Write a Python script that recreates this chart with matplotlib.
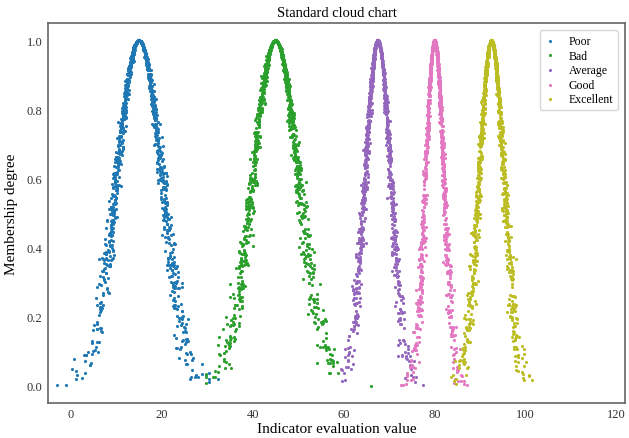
import numpy as np
import matplotlib
matplotlib.use("Agg")
import matplotlib.pyplot as plt

plt.rcParams["font.family"] = ["Liberation Serif", "DejaVu Serif"]

# cloud parameters (expectation, entropy, hyper-entropy)
grades = ["Poor", "Bad", "Average", "Good", "Excellent"]
Ex = [15, 45, 67.5, 80, 92.5]
En = [5, 5, 2.8, 2.0, 2.7]
He = [0.5, 0.5, 0.3, 0.25, 0.3]
n_drops = 1200
colors = ["#1f77b4", "#2ca02c", "#9467bd", "#e377c2", "#bcbd22"]

def cloud_drops(ex, en, he, n, rng):
    en_p = rng.normal(en, he, n)
    x = rng.normal(ex, np.abs(en_p))
    y = np.exp(-(x - ex) ** 2 / (2 * en_p ** 2))
    return x, y

rng = np.random.default_rng(7)
fig = plt.figure(figsize=(6.29, 4.39), dpi=100)
ax = fig.add_axes([0.0763, 0.08, 0.918, 0.865])

for g, ex, en, he, c in zip(grades, Ex, En, He, colors):
    x, y = cloud_drops(ex, en, he, n_drops, rng)
    ax.scatter(x, y, s=5, color=c, label=g, linewidths=0)

ax.set_xlim(-5, 122)
ax.set_ylim(-0.05, 1.05)
ax.set_xticks([0, 20, 40, 60, 80, 100, 120])
ax.set_yticks([0.0, 0.2, 0.4, 0.6, 0.8, 1.0])
ax.tick_params(labelsize=9, colors="#333333", length=0, pad=4)
for s in ax.spines.values():
    s.set_color("#666666")
    s.set_linewidth(1.2)

ax.set_title("Standard cloud chart", fontsize=10.5, pad=5)
ax.set_xlabel("Indicator evaluation value", fontsize=11, labelpad=1)
ax.set_ylabel("Membership degree", fontsize=11, labelpad=6)
ax.legend(loc="upper right", fontsize=8.5, frameon=True, handlelength=0.8,
          handletextpad=1.2, borderpad=0.4, labelspacing=0.22,
          bbox_to_anchor=(0.997, 0.997))

fig.savefig("out.png", dpi=100)
